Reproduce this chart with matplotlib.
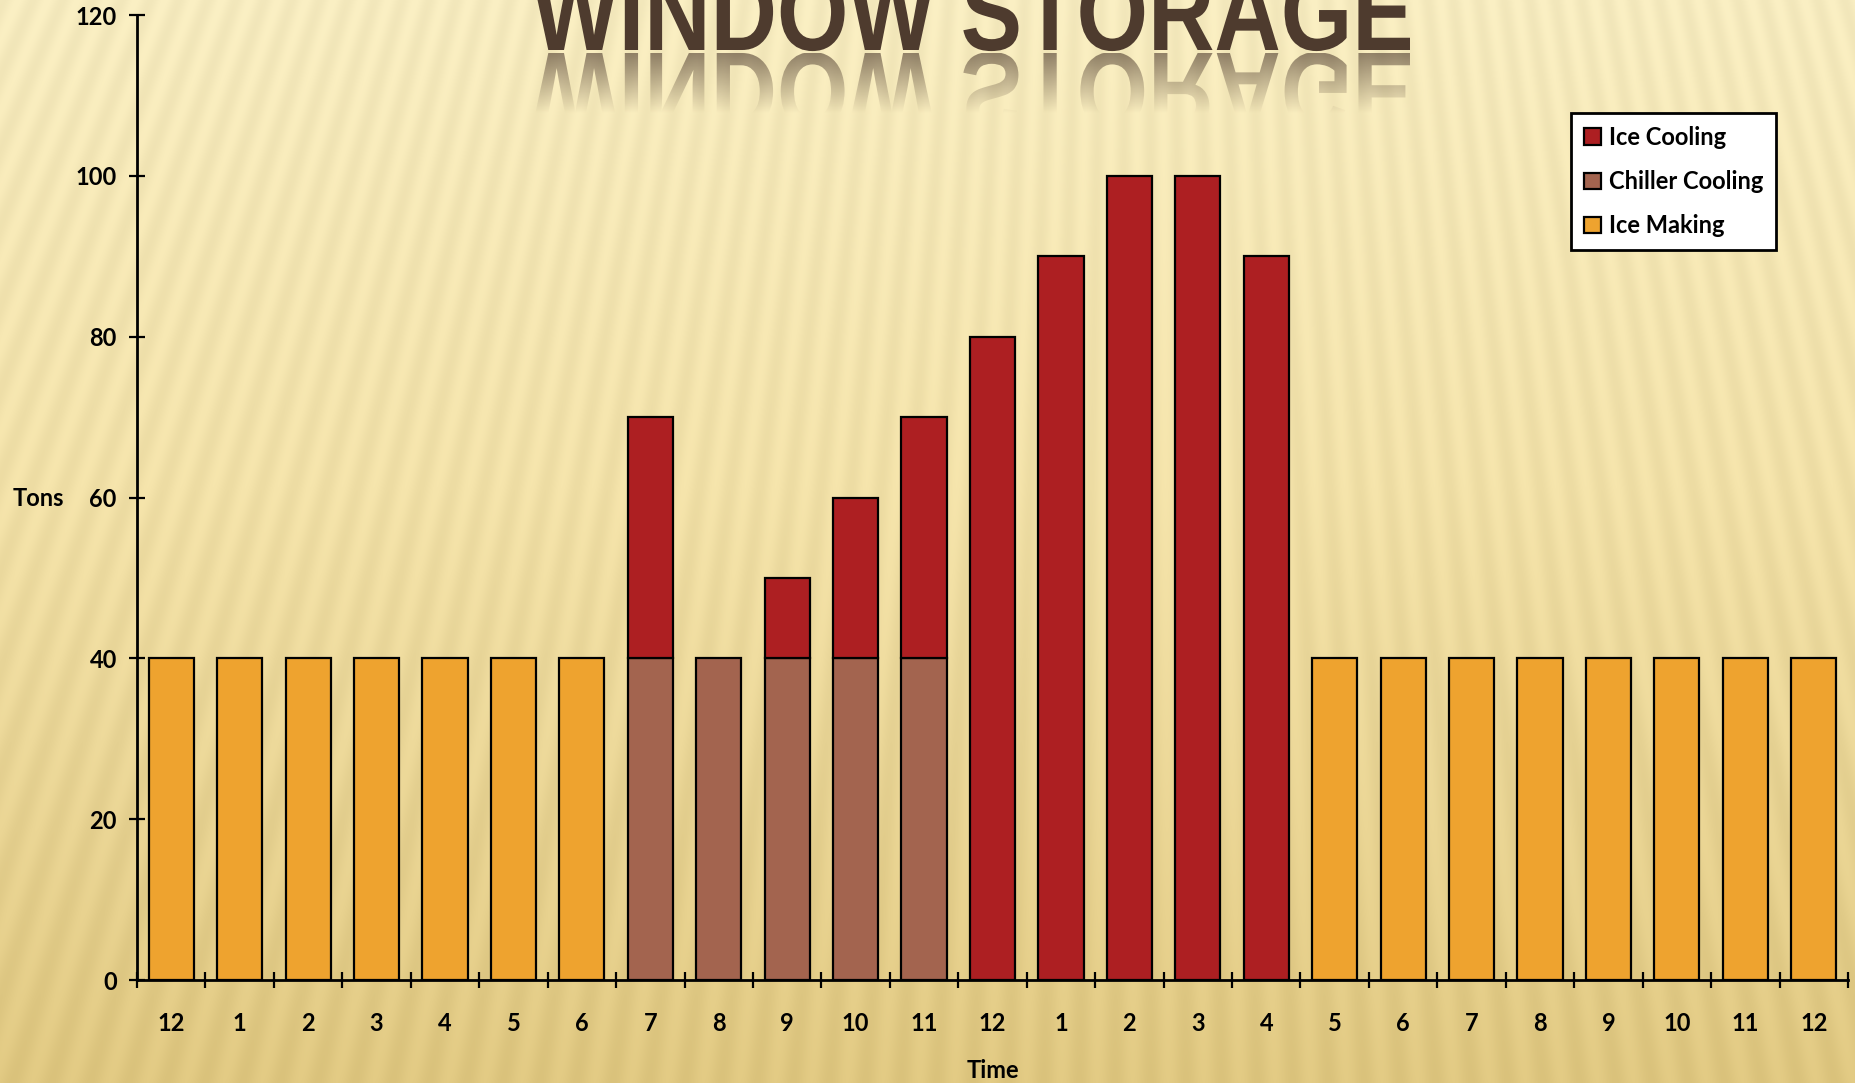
import numpy as np
import matplotlib
matplotlib.use("Agg")
import matplotlib.pyplot as plt
from matplotlib.textpath import TextPath
from matplotlib.patches import PathPatch
from matplotlib.font_manager import FontProperties
from matplotlib.transforms import Affine2D

# ---------------- data ----------------
hours = ["12", "1", "2", "3", "4", "5", "6", "7", "8", "9", "10", "11",
         "12", "1", "2", "3", "4", "5", "6", "7", "8", "9", "10", "11", "12"]
ice_making = [40, 40, 40, 40, 40, 40, 40, 0, 0, 0, 0, 0,
              0, 0, 0, 0, 0, 40, 40, 40, 40, 40, 40, 40, 40]
chiller_cooling = [0, 0, 0, 0, 0, 0, 0, 40, 40, 40, 40, 40,
                   0, 0, 0, 0, 0, 0, 0, 0, 0, 0, 0, 0, 0]
ice_cooling = [0, 0, 0, 0, 0, 0, 0, 30, 0, 10, 20, 30,
               80, 90, 100, 100, 90, 0, 0, 0, 0, 0, 0, 0, 0]
yticks = [0, 20, 40, 60, 80, 100, 120]
title = "WINDOW STORAGE"

C_ICE_COOL = "#AD1F22"
C_CHILL = "#A3644F"
C_MAKE = "#EEA32F"

W, H = 1855, 1083
fig = plt.figure(figsize=(W / 100, H / 100), dpi=100)

# ---------------- background ----------------
yy, xx = np.mgrid[0:H, 0:W].astype(float)
top = np.array([251, 240, 196]) / 255
mid = np.array([246, 229, 172]) / 255
bot = np.array([227, 203, 132]) / 255
f = yy / H
grad = np.where(f[..., None] < 0.45,
                top + (mid - top) * (f[..., None] / 0.45),
                mid + (bot - mid) * ((f[..., None] - 0.45) / 0.55))
cx, cy = 1150.0, -2600.0
ang = np.arctan2(xx - cx, yy - cy)
phase = ang * 3000.0 / 29.0
stripe = np.cos(2 * np.pi * phase)
img = grad - 0.035 * (stripe[..., None] * 0.5 + 0.5)
img = np.clip(img, 0, 1)

bg = fig.add_axes([0, 0, 1, 1], zorder=0)
bg.imshow(img, extent=[0, W, H, 0], aspect="auto", interpolation="bilinear")
bg.set_xlim(0, W)
bg.set_ylim(H, 0)
bg.axis("off")

# ---------------- main chart ----------------
left, right, ytop, ybot = 137, 1848, 15, 980
ax = fig.add_axes([left / W, 1 - ybot / H, (right - left) / W, (ybot - ytop) / H], zorder=1)
ax.patch.set_alpha(0)

x = np.arange(len(hours))
im = np.array(ice_making, float)
ch = np.array(chiller_cooling, float)
ic = np.array(ice_cooling, float)
bw = 0.66
lw = 1.6

m = im > 0
h_make = ax.bar(x[m], im[m], width=bw, color=C_MAKE, edgecolor="black", linewidth=lw, label="Ice Making")
m = ch > 0
h_chill = ax.bar(x[m], ch[m], bottom=im[m], width=bw, color=C_CHILL, edgecolor="black", linewidth=lw,
                 label="Chiller Cooling")
m = ic > 0
h_cool = ax.bar(x[m], ic[m], bottom=(im + ch)[m], width=bw, color=C_ICE_COOL, edgecolor="black", linewidth=lw,
                label="Ice Cooling")

ax.set_xlim(-0.5, len(hours) - 0.5)
ax.set_ylim(0, 120)
ax.set_yticks(yticks)
ax.set_xticks(x)
ax.set_xticks(np.arange(-0.5, len(hours), 1.0), minor=True)

FAM = ["Lato", "DejaVu Sans"]
tick_font = dict(family=FAM, weight="bold", size=17)
ax.set_xticklabels(hours, fontdict=tick_font)
ax.set_yticklabels([str(v) for v in yticks], fontdict=tick_font)

ax.tick_params(axis="x", which="major", length=0, pad=23)
ax.tick_params(axis="x", which="minor", direction="inout", length=11, width=1.6, color="black")
ax.tick_params(axis="y", which="major", direction="inout", length=11, width=1.6, pad=9)

for s in ["top", "right"]:
    ax.spines[s].set_visible(False)
for s in ["left", "bottom"]:
    ax.spines[s].set_linewidth(2)
    ax.spines[s].set_color("black")

leg = fig.legend([h_cool, h_chill, h_make], ["Ice Cooling", "Chiller Cooling", "Ice Making"],
                 loc="upper left", bbox_to_anchor=(1571 / W, 1 - 113 / H),
                 prop=dict(family=FAM, weight="bold", size=17),
                 frameon=True, fancybox=False, edgecolor="black", facecolor="white", framealpha=1,
                 handlelength=0.7, handleheight=0.7, handletextpad=0.35, labelspacing=0.9,
                 borderpad=0.55, borderaxespad=0)
leg.get_frame().set_linewidth(2)

fig.text(38 / W, 1 - 499 / H, "Tons", ha="center", va="center",
         family=FAM, weight="bold", size=17)
fig.text(993 / W, 1 - 1070 / H, "Time", ha="center", va="center",
         family=FAM, weight="bold", size=17)

# ---------------- title with reflection ----------------
ov = fig.add_axes([0, 0, 1, 1], zorder=2)
ov.set_xlim(0, W)
ov.set_ylim(H, 0)
ov.axis("off")
ov.patch.set_alpha(0)

fp = FontProperties(family=["Liberation Sans Narrow", "Liberation Sans", "DejaVu Sans"], weight="bold")
tp = TextPath((0, 0), title, size=100, prop=fp)
ext = tp.get_extents()
tx0, tx1 = 532, 1410
base = 50
cap = 78
sx = (tx1 - tx0) / ext.width
sy = cap / ext.height
t_main = Affine2D().translate(-ext.x0, 0).scale(sx, -sy).translate(tx0, base)
p_main = t_main.transform_path(tp)
ov.add_patch(PathPatch(p_main, facecolor="#4E3B2E", edgecolor="none"))

t_ref = Affine2D().translate(-ext.x0, 0).scale(sx, sy).translate(tx0, base + 3)
p_ref = t_ref.transform_path(tp)
ref_patch = PathPatch(p_ref, facecolor="none", edgecolor="none", transform=ov.transData)
ov.add_patch(ref_patch)
gh = 100
grad_a = np.zeros((gh, 2, 4))
grad_a[..., 0] = 0x4E / 255
grad_a[..., 1] = 0x3B / 255
grad_a[..., 2] = 0x2E / 255
alph = np.clip(0.6 * (1 - np.linspace(0, 1, gh) / 0.6), 0, 1)
grad_a[..., 3] = alph[:, None]
gi = ov.imshow(grad_a, extent=[tx0 - 5, tx1 + 5, base + 3 + gh, base + 3], aspect="auto",
               interpolation="bilinear", zorder=3)
gi.set_clip_path(ref_patch)
ov.set_xlim(0, W)
ov.set_ylim(H, 0)

fig.savefig("out.png", dpi=100)
